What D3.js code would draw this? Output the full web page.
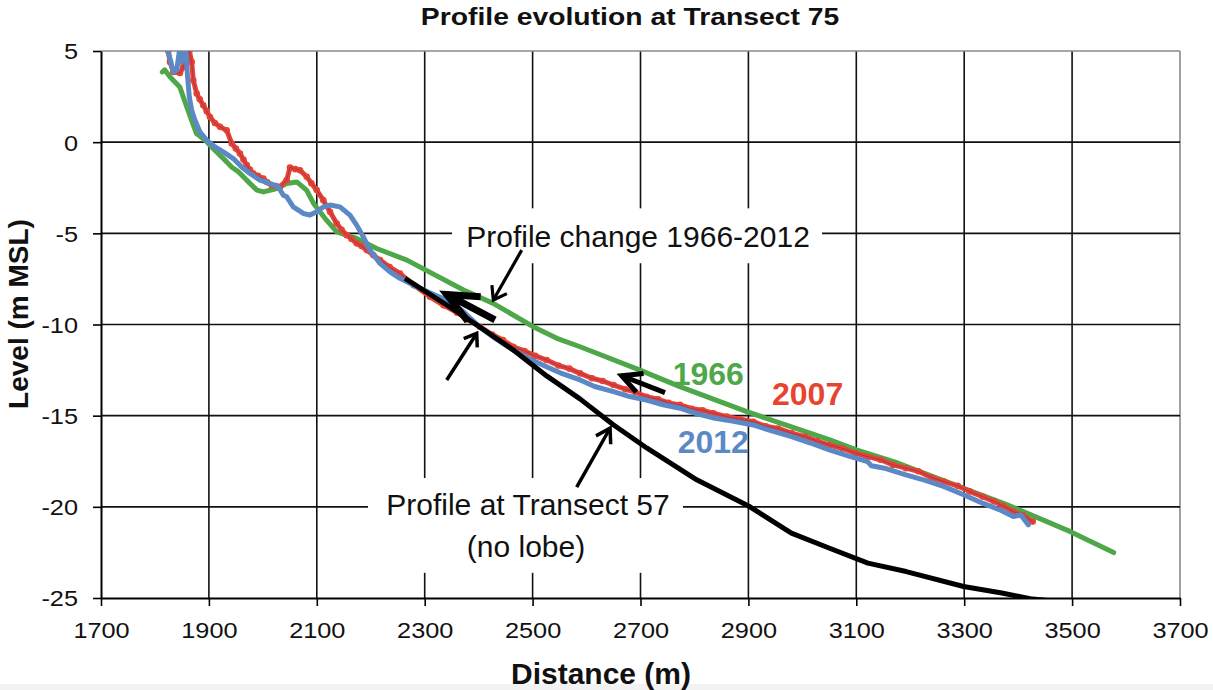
<!DOCTYPE html>
<html>
<head>
<meta charset="utf-8">
<script src="https://cdn.jsdelivr.net/npm/d3@7"></script>
<style>
  body { margin: 0; background: #ffffff; }
  svg { display: block; font-family: "Liberation Sans", Arial, Helvetica, sans-serif; }
</style>
</head>
<body>
<svg id="chart" width="1213" height="690"></svg>
<script>
// ---------------- DATA ----------------
const chartTitle = "Profile evolution at Transect 75";
const xAxisTitle = "Distance (m)";
const yAxisTitle = "Level (m MSL)";
const xTickValues = [1700, 1900, 2100, 2300, 2500, 2700, 2900, 3100, 3300, 3500, 3700];
const yTickValues = [5, 0, -5, -10, -15, -20, -25];

// 1966 profile (green)
const dist1966 = [1813.6, 1818, 1828, 1846, 1859, 1868, 1877, 1893, 1911, 1933, 1942, 1955, 1967, 1976, 1989,
  2001, 2026, 2044, 2063, 2081, 2094, 2118, 2137, 2174, 2211, 2267, 2372, 2427, 2501, 2545, 2588, 2699, 2773,
  2897, 3051, 3100, 3178, 3299, 3380, 3497, 3577];
const level1966 = [3.85, 3.97, 3.58, 3.03, 1.93, 1.20, 0.47, 0.11, -0.44, -1.08, -1.36, -1.63, -1.99, -2.26, -2.63,
  -2.73, -2.54, -2.27, -2.18, -2.63, -3.36, -4.28, -4.92, -5.28, -5.83, -6.47, -8.11, -8.84, -10.12, -10.76, -11.22, -12.5, -13.41,
  -14.78, -16.33, -16.88, -17.61, -18.98, -19.89, -21.36, -22.51];

// 2007 profile (red)
const dist2007 = [1824.7, 1827.9, 1834, 1846.4, 1852.5, 1863.7, 1868.1, 1871.1, 1877.4, 1883, 1889.6, 1896, 1902, 1911,
  1920.6, 1933, 1942.3, 1950, 1957.6, 1964, 1970.1, 1976, 1982.3, 1991, 2000.8, 2008, 2016.4, 2024, 2031.8, 2044.2, 2050.3,
  2060, 2068.9, 2081.3, 2090, 2099.8, 2112, 2124.5, 2136.9, 2146, 2155.4, 2164, 2174, 2183, 2192.5, 2205, 2217.1, 2235, 2254.2,
  2280, 2309.8, 2335, 2360, 2380, 2402, 2425, 2445, 2464, 2485, 2505, 2526, 2548, 2568, 2588, 2610, 2630, 2650, 2672, 2690,
  2711, 2733, 2752, 2773, 2795, 2815, 2835, 2860, 2885, 2909, 2932, 2955, 2980, 3005, 3028, 3050, 3075, 3098, 3121, 3145,
  3168, 3192, 3215, 3240, 3263, 3288, 3310, 3334, 3355, 3372, 3391, 3408, 3427];
const level2007 = [5.0, 4.40, 3.85, 3.79, 4.12, 5.0, 4.40, 3.39, 2.67, 2.35, 2.02, 1.70, 1.38, 1.05,
  0.84, 0.65, -0.07, -0.35, -0.62, -0.95, -1.26, -1.50, -1.72, -1.85, -1.99, -2.20, -2.36, -2.40, -2.45, -2.08, -1.39,
  -1.48, -1.54, -1.90, -2.25, -2.63, -3.18, -3.82, -4.46, -4.80, -5.10, -5.30, -5.55, -5.70, -5.92, -6.20, -6.47, -6.85, -7.20,
  -7.85, -8.48, -8.95, -9.35, -9.72, -10.12, -10.55, -10.85, -11.22, -11.45, -11.72, -11.95, -12.25, -12.42, -12.68, -12.95, -13.10, -13.32, -13.55, -13.70,
  -13.96, -14.10, -14.30, -14.41, -14.62, -14.70, -14.87, -15.05, -15.20, -15.33, -15.58, -15.70, -15.96, -16.15, -16.40, -16.61, -16.80, -17.05, -17.25, -17.42,
  -17.70, -17.88, -18.05, -18.40, -18.62, -18.85, -19.15, -19.44, -19.70, -19.95, -20.26, -20.45, -20.81];

// 2012 profile (blue)
const dist2012 = [1824.7, 1834, 1840.3, 1845.1, 1849.2, 1852.5, 1857.6, 1860, 1863.7, 1868.1, 1874.2, 1883.5, 1895.9,
  1911.3, 1926.7, 1945.2, 1960.8, 1976.2, 1994.7, 2016.4, 2028.6, 2037.9, 2044.2, 2056.4, 2075, 2087.4, 2099.8, 2112,
  2124.5, 2143, 2161.5, 2173.9, 2186.2, 2198.6, 2217.1, 2235.7, 2254.2, 2290, 2320, 2341, 2370, 2402, 2430, 2464,
  2495, 2526, 2555, 2588, 2615, 2650, 2680, 2711, 2742, 2773, 2805, 2838, 2870, 2909, 2945, 2980, 3015, 3050, 3085,
  3121, 3128, 3155, 3192, 3228, 3263, 3300, 3334, 3365, 3391, 3405, 3419];
const level2012 = [4.95, 3.85, 3.94, 4.95, 4.38, 4.95, 4.95, 3.76, 2.48, 1.75, 1.20, 0.56, 0.11,
  -0.26, -0.53, -0.90, -1.36, -1.72, -2.08, -2.30, -2.45, -2.91, -3.0, -3.55, -3.91, -4.0, -3.82, -3.55,
  -3.45, -3.55, -4.0, -4.55, -5.19, -5.92, -6.65, -7.11, -7.47, -8.0, -8.4, -8.66, -9.25, -10.14, -10.75, -11.40,
  -11.90, -12.32, -12.70, -13.04, -13.40, -13.68, -13.95, -14.14, -14.40, -14.59, -14.90, -15.14, -15.30, -15.51, -15.85, -16.15, -16.50, -16.88, -17.20,
  -17.52, -17.75, -17.90, -18.25, -18.55, -18.89, -19.35, -19.80, -20.15, -20.53, -20.45, -20.99];

// Profile at Transect 57 (black)
const distT57 = [2263.5, 2340.8, 2402.5, 2464.2, 2526.1, 2587.8, 2649.6, 2711.5, 2804.2, 2903, 2979.7,
  3050.5, 3121.5, 3192.5, 3298.9, 3369.7, 3426.6, 3460];
const levelT57 = [-7.47, -8.93, -10.14, -11.40, -12.82, -14.08, -15.50, -16.77, -18.52, -20.0, -21.44,
  -22.27, -23.09, -23.55, -24.37, -24.73, -25.06, -25.15];

// Annotation arrows (data coordinates: tail -> tip)
const arrowTailDist  = [2479.8, 2430.3, 2340.8, 2745.4, 2581.7];
const arrowTailLevel = [-5.92, -9.75, -13.04, -13.74, -18.92];
const arrowTipDist   = [2427.2, 2340.8, 2396.4, 2665.1, 2643.5];
const arrowTipLevel  = [-8.66, -8.35, -10.49, -12.81, -15.69];

const yearLabels = ["1966", "2007", "2012"];
const noteChange = "Profile change 1966-2012";
const noteT57 = ["Profile at Transect 57", "(no lobe)"];

// ---------------- STYLE / LAYOUT ----------------
const colors = { g: "#4ea84a", r: "#e8432f", b: "#5b89c6", k: "#000000" };
const arrowStyle = [
  { w: 3.2, head: 15, ang: 35 },
  { w: 7, head: 34, ang: 24 },
  { w: 3.5, head: 14, ang: 35 },
  { w: 5, head: 22, ang: 27 },
  { w: 3.5, head: 16, ang: 32 }
];
const yearLabelPos = [[2759.7, -13.32], [2943.8, -14.42], [2768.9, -17.04]];
const yearColors = [colors.g, colors.r, colors.b];

const svg = d3.select("#chart");
const x = d3.scaleLinear().domain([1700, 3700]).range([101, 1180]);
const y = d3.scaleLinear().domain([-25, 5]).range([598, 51]);

svg.append("rect").attr("x", 0).attr("y", 0).attr("width", 1213).attr("height", 690).attr("fill", "#fff");
svg.append("rect").attr("x", 0).attr("y", 684).attr("width", 1213).attr("height", 6).attr("fill", "#f2f2f2");

// grid
const grid = svg.append("g");
grid.selectAll("line.vx").data(xTickValues.slice(1)).join("line")
  .attr("x1", d => x(d)).attr("x2", d => x(d))
  .attr("y1", y(5)).attr("y2", y(-25))
  .attr("stroke", d => d === 3700 ? "#8a8a8a" : "#111").attr("stroke-width", 1.6);
grid.selectAll("line.hy").data(yTickValues.slice(0, -1)).join("line")
  .attr("x1", x(1700)).attr("x2", x(3700))
  .attr("y1", d => y(d)).attr("y2", d => y(d))
  .attr("stroke", d => d === 5 ? "#8a8a8a" : "#111").attr("stroke-width", 1.6);

// axes
const fmt = d => String(d);
const xAxis = svg.append("g").attr("transform", `translate(0,${y(-25)})`)
  .call(d3.axisBottom(x).tickValues(xTickValues).tickSize(8).tickSizeOuter(0).tickFormat(fmt));
const yAxis = svg.append("g").attr("transform", `translate(${x(1700)},0)`)
  .call(d3.axisLeft(y).tickValues(yTickValues).tickSize(8).tickSizeOuter(0).tickFormat(fmt));
[xAxis, yAxis].forEach(a => {
  a.select(".domain").attr("stroke", "#000").attr("stroke-width", 2);
  a.selectAll(".tick line").attr("stroke", "#000").attr("stroke-width", 1.6);
  a.selectAll(".tick text").attr("fill", "#111").attr("font-size", 22)
    .attr("font-family", "'Liberation Sans', Arial, sans-serif");
});
xAxis.selectAll(".tick text").attr("y", 40).attr("dy", 0).attr("transform", "scale(1.15,1)");
yAxis.selectAll(".tick text").attr("x", -23 / 1.15).attr("dy", "0.36em").attr("transform", "scale(1.15,1)");

// titles
svg.append("text").attr("transform", "translate(630,25) scale(1.18,1)")
  .attr("text-anchor", "middle").attr("font-weight", "bold").attr("font-size", 24).attr("fill", "#111")
  .text(chartTitle);
svg.append("text").attr("x", 601).attr("y", 684)
  .attr("text-anchor", "middle").attr("font-weight", "bold").attr("font-size", 30).attr("fill", "#111")
  .text(xAxisTitle);
svg.append("text").attr("transform", "translate(28,314) rotate(-90)")
  .attr("text-anchor", "middle").attr("font-weight", "bold").attr("font-size", 28).attr("fill", "#111")
  .text(yAxisTitle);

// white boxes behind notes
const boxes = [[2350.6, 3036.4, -3.63, -6.64], [2194.9, 2778.7, -18.42, -23.62]];
svg.selectAll("rect.box").data(boxes).join("rect")
  .attr("x", d => x(d[0])).attr("width", d => x(d[1]) - x(d[0]))
  .attr("y", d => y(d[2])).attr("height", d => y(d[3]) - y(d[2]))
  .attr("fill", "#fff");

svg.append("text").attr("x", x(2695.4)).attr("y", y(-5.76))
  .attr("text-anchor", "middle").attr("font-size", 30).attr("fill", "#111").text(noteChange);
svg.append("text").attr("x", x(2491.5)).attr("y", y(-20.44))
  .attr("text-anchor", "middle").attr("font-size", 30).attr("fill", "#111").text(noteT57[0]);
svg.append("text").attr("x", x(2487.8)).attr("y", y(-22.73))
  .attr("text-anchor", "middle").attr("font-size", 30).attr("fill", "#111").text(noteT57[1]);

// series
svg.append("clipPath").attr("id", "plotclip").append("rect")
  .attr("x", x(1700)).attr("y", y(5)).attr("width", x(3700) - x(1700)).attr("height", y(-25) - y(5));
const plot = svg.append("g").attr("clip-path", "url(#plotclip)");
const line = d3.line().x(d => x(d[0])).y(d => y(d[1]));
const zip = (a, b) => a.map((v, i) => [v, b[i]]);

const s1966 = zip(dist1966, level1966);
const s2007 = zip(dist2007, level2007);
const s2012 = zip(dist2012, level2012);
const sT57 = zip(distT57, levelT57);

plot.append("path").datum(s1966).attr("d", line).attr("fill", "none")
  .attr("stroke", colors.g).attr("stroke-width", 5).attr("stroke-linejoin", "round").attr("stroke-linecap", "round");
plot.append("path").datum(s2007).attr("d", line).attr("fill", "none")
  .attr("stroke", colors.r).attr("stroke-width", 5).attr("stroke-linejoin", "round");
plot.selectAll("circle.m07").data(s2007).join("circle")
  .attr("cx", d => x(d[0])).attr("cy", d => y(d[1])).attr("r", 3.3).attr("fill", colors.r);
plot.append("path").datum(s2007).attr("d", line).attr("fill", "none")
  .attr("stroke", "#6a2a8a").attr("stroke-width", 0.8).attr("stroke-opacity", 0.7);
plot.append("path").datum(s2012).attr("d", line).attr("fill", "none")
  .attr("stroke", colors.b).attr("stroke-width", 5).attr("stroke-linejoin", "round").attr("stroke-linecap", "round");
plot.append("path").datum(sT57).attr("d", line).attr("fill", "none")
  .attr("stroke", colors.k).attr("stroke-width", 5).attr("stroke-linejoin", "round");

// arrows
const arrows = svg.append("g");
arrowTipDist.forEach((td, i) => {
  const x0 = x(arrowTailDist[i]), y0 = y(arrowTailLevel[i]);
  const x1 = x(td), y1 = y(arrowTipLevel[i]);
  const st = arrowStyle[i];
  const a = Math.atan2(y0 - y1, x0 - x1);
  const da = st.ang * Math.PI / 180;
  const p1 = [x1 + st.head * Math.cos(a - da), y1 + st.head * Math.sin(a - da)];
  const p2 = [x1 + st.head * Math.cos(a + da), y1 + st.head * Math.sin(a + da)];
  arrows.append("line").attr("x1", x0).attr("y1", y0).attr("x2", x1).attr("y2", y1)
    .attr("stroke", "#000").attr("stroke-width", st.w);
  arrows.append("path").attr("d", `M${p1[0]},${p1[1]}L${x1},${y1}L${p2[0]},${p2[1]}`)
    .attr("fill", "none").attr("stroke", "#000").attr("stroke-width", st.w)
    .attr("stroke-linejoin", "miter").attr("stroke-miterlimit", 10);
});

// year labels
svg.selectAll("text.year").data(yearLabels).join("text")
  .attr("x", (d, i) => x(yearLabelPos[i][0])).attr("y", (d, i) => y(yearLabelPos[i][1]))
  .attr("font-size", 32).attr("font-weight", "bold")
  .attr("fill", (d, i) => yearColors[i]).text(d => d);
</script>
</body>
</html>
